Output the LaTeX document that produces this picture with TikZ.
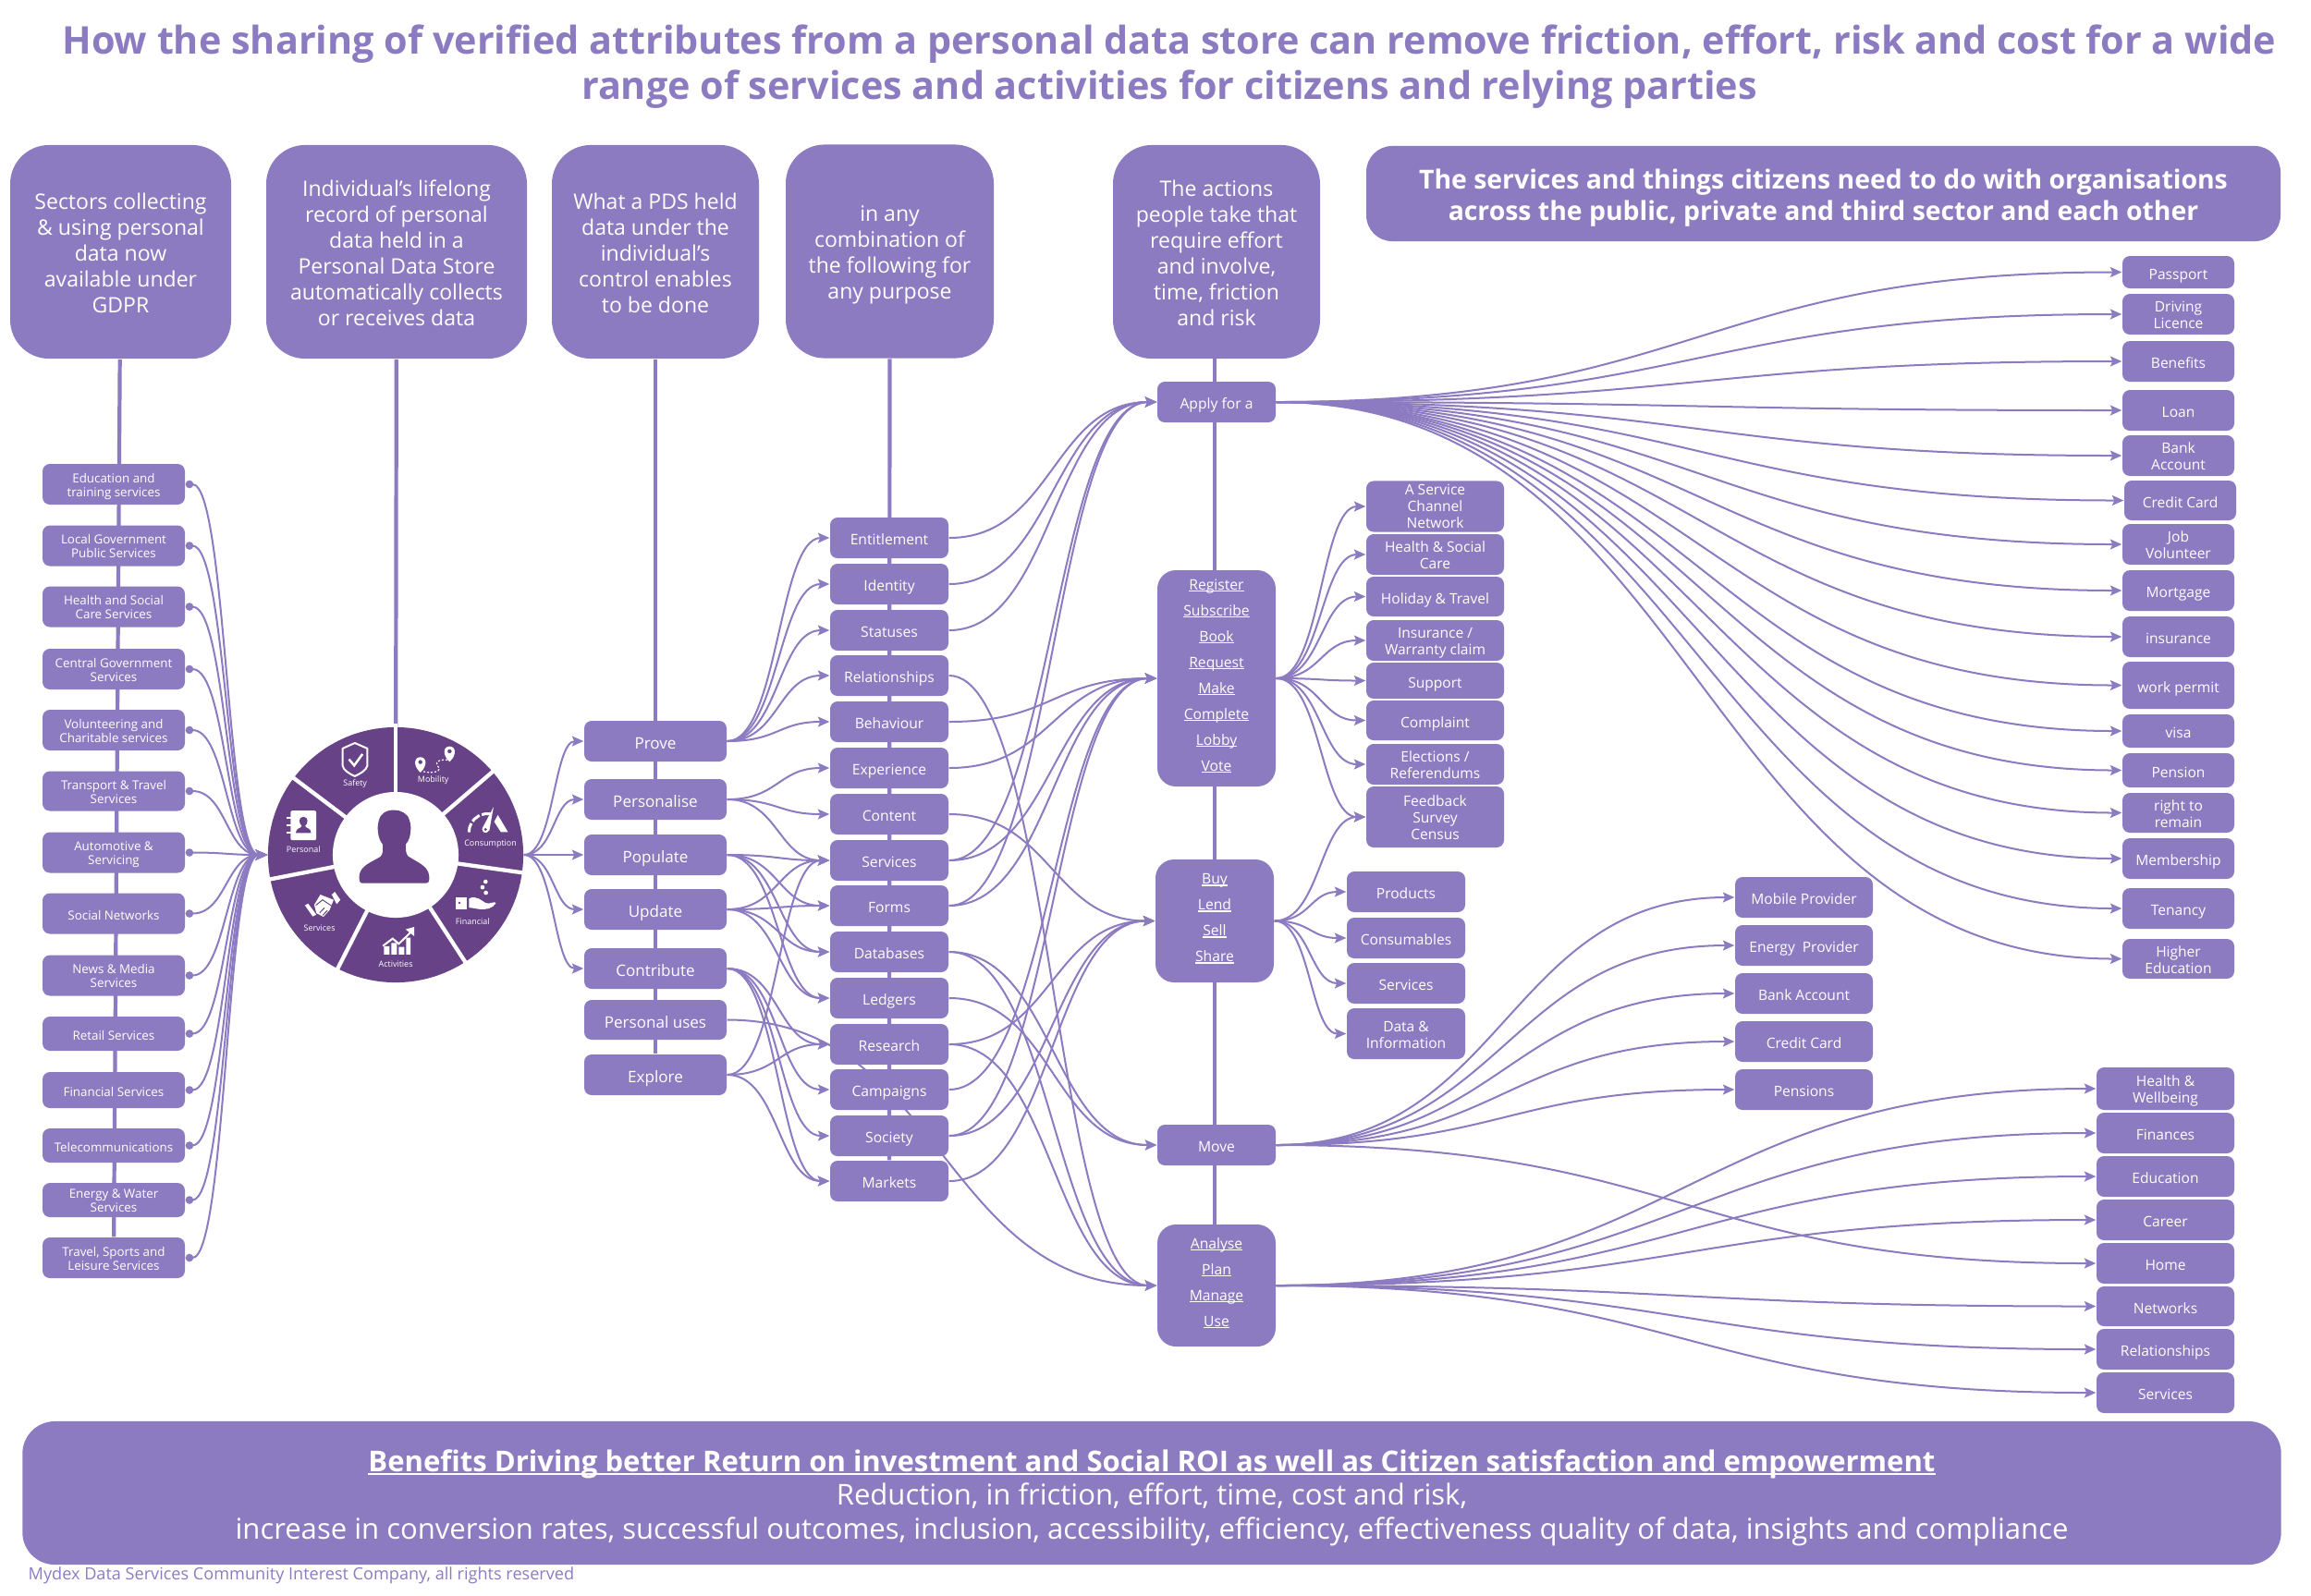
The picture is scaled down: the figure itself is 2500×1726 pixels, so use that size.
\documentclass[tikz,border=0pt]{standalone}
\usepackage{fontspec}
\setmainfont{Open Sans}
\usetikzlibrary{arrows.meta,backgrounds,calc}
\definecolor{boxpurple}{HTML}{8C7BC0}
\definecolor{wheelpurple}{HTML}{674287}
\newcommand\ruled[1]{\setbox0\hbox{#1}\rlap{\rule[-0.13em]{\wd0}{0.07em}}\box0 }
\newcommand\lead{\rule{0pt}{1.1em}}
\tikzset{
  evenlines/.style={execute at begin node={\rule[-0.24em]{0pt}{1.49em}}},
  tile/.style={fill=boxpurple,text=white,rounded corners=0.08cm,inner sep=0pt,align=center,evenlines,minimum width=#1*0.01cm},
  boxh/.style={minimum height=#1*0.01cm},
  sector/.style={tile=154,font=\fontsize{3.8}{4.38}\selectfont},
  usebox/.style={tile=154,font=\fontsize{4.85}{5.5}\selectfont},
  attr/.style={tile=128,boxh=44,font=\fontsize{4.45}{5.2}\selectfont},
  action/.style={tile=128,font=\fontsize{4.45}{7.97}\selectfont},
  menu/.style={action,rounded corners=0.2cm,execute at begin node={\rule[-0.46em]{0pt}{1em}}},
  thing/.style={font=\fontsize{4.42}{5.2}\selectfont},
  head/.style={fill=boxpurple,text=white,rounded corners=0.42cm,inner sep=0pt,align=center,evenlines,minimum height=2.31cm,minimum width=#1*0.01cm,font=\fontsize{6.55}{7.97}\selectfont},
  spine/.style={draw=boxpurple,line width=0.042cm},
  flow/.style={draw=boxpurple,line width=0.02cm,-{Stealth[length=0.125cm,width=0.11cm,inset=0.025cm]},
    to path={let \p1=(\tikztostart),\p2=(\tikztotarget),\n1={(\x2-\x1)/2} in
      .. controls ({\x1+\n1},\y1) and ({\x2-\n1},\y2) .. (\p2) \tikztonodes}},
  dotflow/.style={flow,{Circle[length=0.085cm]}-{Stealth[length=0.125cm,width=0.11cm,inset=0.025cm]}},
  wheeltext/.style={text=white,inner sep=0pt,font=\fontsize{2.55}{3}\selectfont},
}
\begin{document}
\begin{tikzpicture}[x=0.01cm,y=-0.01cm]
  \useasboundingbox (0,0) rectangle (2500,1726);
  % title and headers
  \draw
    (1265,72.5) node[text=boxpurple,align=center,font=\fontsize{11.76}{13.94}\selectfont\bfseries] (title){How the sharing of verified attributes from a personal data store can remove friction, effort, risk and cost for a wide\\range of services and activities for citizens and relying parties}
    (130.5,272.5) node[head=239] (sectorhead){\lead Sectors collecting\\\& using personal\\data now\\available under\\GDPR}
    (429,272.5) node[head=282] (recordhead){\lead Individual's lifelong\\record of personal\\data held in a\\Personal Data Store\\automatically collects\\or receives data}
    (709,272.5) node[head=224] (pdshead){\lead What a PDS held\\data under the\\individual's\\control enables\\to be done}
    (962.5,272) node[head=225] (anyhead){\lead in any\\combination of\\the following for\\any purpose}
    (1316,272.5) node[head=224] (actionhead){\lead The actions\\people take that\\require effort\\and involve,\\time, friction\\and risk}
    (1972.5,209.5) node[head=989,minimum height=1.03cm,rounded corners=0.28cm,font=\fontsize{8.07}{9.53}\selectfont\bfseries] (serviceshead){\lead The services and things citizens need to do with organisations\\across the public, private and third sector and each other};
  % wheel
  \draw
    (428,925) node[circle,fill=wheelpurple,minimum size=2.76cm,inner sep=0pt] (wheel){};
  \foreach \a in {90,40.6,-8,-57,-117,191,143}
    \draw[white,line width=0.043cm] (wheel.center) -- ++(\a:1.42cm);
  \draw
    (428,925) node[circle,fill=white,minimum size=1.36cm,inner sep=0pt] (hub){};
  \begin{scope}[shift={(285,780)},x=0.003333cm,y=-0.003333cm]
    % person
    \fill[wheelpurple] (322,528) -- (528,528) .. controls (540,528) and (540,515) .. (538,500) .. controls (532,470) and (500,460) .. (470,440) .. controls (462,432) and (462,415) .. (463,400) .. controls (480,385) and (482,340) .. (475,325) .. controls (470,300) and (445,290) .. (425,290) .. controls (400,290) and (380,300) .. (375,325) .. controls (368,345) and (372,385) .. (387,400) .. controls (390,420) and (388,435) .. (380,442) .. controls (350,460) and (318,470) .. (312,500) .. controls (310,518) and (312,528) .. (322,528) -- cycle;
    % safety
    \draw[white,line width=0.02cm,line join=round] (297,72) -- (338,90) -- (338,145) .. controls (335,160) and (315,172) .. (297,180) .. controls (279,172) and (259,160) .. (257,145) -- (257,90) -- cycle;
    \draw[white,line width=0.025cm] (278,125) -- (295,145) -- (322,108);
    % mobility
    \fill[white,even odd rule] (510,118) .. controls (490,118) and (485,145) .. (510,168) .. controls (535,145) and (530,118) .. (510,118) -- cycle (510,134) circle (7);
    \fill[white,even odd rule] (605,83) .. controls (585,83) and (580,110) .. (605,133) .. controls (630,110) and (625,83) .. (605,83) -- cycle (605,99) circle (7);
    \draw[white,line width=0.012cm,dash pattern=on 0.02cm off 0.02cm] (520,165) .. controls (550,172) and (585,165) .. (565,145) .. controls (555,130) and (580,125) .. (598,127);
    % consumption
    \draw[white,line width=0.03cm,dash pattern=on 0.1cm off 0.025cm] (668,362) arc (180:285:60);
    \fill[white] (762,306) -- (795,362) -- (772,362) -- (750,328) -- cycle;
    \fill[white] (748,280) -- (711,350) -- (734,358) -- cycle;
    \fill[white] (722,353) circle (11);
    \fill[wheelpurple] (722,353) circle (5);
    % financial
    \fill[white] (625,575) rectangle (660,612);
    \fill[wheelpurple] (637,592) circle (4);
    \fill[white] (668,578) .. controls (690,565) and (710,585) .. (722,592) .. controls (735,598) and (750,585) .. (756,592) .. controls (745,610) and (725,615) .. (700,612) -- (668,607) -- cycle;
    \fill[white] (722,523) circle (7) (712,541) circle (7) (723,559) circle (7);
    % activities
    \fill[white] (392,733) rectangle (410,760) (416,722) rectangle (434,760) (440,735) rectangle (458,760) (464,705) rectangle (478,760);
    \draw[wheelpurple,line width=0.02cm] (385,725) -- (420,702) -- (440,720) -- (482,682);
    \draw[white,line width=0.02cm] (388,732) -- (420,708) -- (440,725) -- (478,688);
    \fill[white] (490,670) -- (490,700) -- (462,678) -- cycle;
    % services
    \fill[white] (165,598) -- (185,565) -- (228,582) -- (215,615) -- (195,637) -- (172,625) -- cycle;
    \fill[white] (135,600) -- (145,594) -- (172,630) -- (160,636) -- cycle;
    \fill[white] (222,565) -- (232,556) -- (250,582) -- (238,596) -- cycle;
    \draw[wheelpurple,line width=0.01cm] (183,624) -- (198,608) (193,632) -- (208,616) (170,600) -- (192,582) -- (222,602);
    % personal
    \fill[white,rounded corners=0.02cm] (88,292) rectangle (172,388);
    \draw[white,line width=0.02cm] (76,315) -- (95,315) (76,340) -- (95,340) (76,365) -- (95,365);
    \fill[wheelpurple] (105,365) .. controls (105,348) and (122,350) .. (125,342) .. controls (115,335) and (112,312) .. (130,312) .. controls (148,312) and (145,335) .. (135,342) .. controls (138,350) and (155,348) .. (155,365) -- cycle;
    % labels
    \draw
      (298,205) node[wheeltext] (safety){Safety}
      (552,193) node[wheeltext] (mobility){Mobility}
      (738,400) node[wheeltext] (consumption){Consumption}
      (680,652) node[wheeltext] (financial){Financial}
      (430,792) node[wheeltext] (activities){Activities}
      (182,675) node[wheeltext] (wheelservices){Services}
      (130,417) node[wheeltext] (personal){Personal};
  \end{scope}
  % sectors
  \draw
    (123,524) node[sector,boxh=44] (education){\lead Education and\\training services}
    (123,590.5) node[sector,boxh=44] (localgov){\lead Local Government\\Public Services}
    (123,656.5) node[sector,boxh=44] (healthcare){\lead Health and Social\\Care Services}
    (123,724) node[sector,boxh=44] (centralgov){\lead Central Government\\Services}
    (123,790) node[sector,boxh=44] (volunteering){\lead Volunteering and\\Charitable services}
    (123,856) node[sector,boxh=43] (transport){\lead Transport \& Travel\\Services}
    (123,922.5) node[sector,boxh=44] (automotive){\lead Automotive \&\\Servicing}
    (123,988.5) node[sector,boxh=44] (social){Social Networks}
    (123,1055.5) node[sector,boxh=44] (news){\lead News \& Media\\Services}
    (123,1118.5) node[sector,boxh=37] (retail){Retail Services}
    (123,1179.5) node[sector,boxh=39] (finance){Financial Services}
    (123,1239.5) node[sector,boxh=37] (telecoms){Telecommunications}
    (123,1298.5) node[sector,boxh=37] (energy){\lead Energy \& Water\\Services}
    (123,1361) node[sector,boxh=44] (travel){\lead Travel, Sports and\\Leisure Services};
  % uses
  \draw
    (709,802) node[usebox,boxh=44] (prove){Prove}
    (709,865) node[usebox,boxh=44] (personalise){Personalise}
    (709,925) node[usebox,boxh=44] (populate){Populate}
    (709,984) node[usebox,boxh=44] (update){Update}
    (709,1048) node[usebox,boxh=44] (contribute){Contribute}
    (709,1103.5) node[usebox,boxh=43] (personaluses){Personal uses}
    (709,1163) node[usebox,boxh=44] (explore){Explore};
  % attributes
  \draw
    (962,582) node[attr] (entitlement){Entitlement}
    (962,632) node[attr] (identity){Identity}
    (962,682) node[attr] (statuses){Statuses}
    (962,731) node[attr] (relationships){Relationships}
    (962,781) node[attr] (behaviour){Behaviour}
    (962,831) node[attr] (experience){Experience}
    (962,881) node[attr] (content){Content}
    (962,931) node[attr] (services){Services}
    (962,980) node[attr] (forms){Forms}
    (962,1030) node[attr] (databases){Databases}
    (962,1080) node[attr] (ledgers){Ledgers}
    (962,1130) node[attr] (research){Research}
    (962,1179) node[attr] (campaigns){Campaigns}
    (962,1229) node[attr] (society){Society}
    (962,1278) node[attr] (markets){Markets};
  % actions
  \draw
    (1316,435) node[action,boxh=44] (apply){Apply for a}
    (1316,734) node[menu,boxh=234] (register){\ruled{Register}\\\ruled{Subscribe}\\\ruled{Book}\\\ruled{Request}\\\ruled{Make}\\\ruled{Complete}\\\ruled{Lobby}\\\ruled{Vote}}
    (1314,996.5) node[menu,boxh=133] (buy){\ruled{Buy}\\\ruled{Lend}\\\ruled{Sell}\\\ruled{Share}}
    (1316,1239) node[action,boxh=44] (move){Move}
    (1316,1391) node[menu,boxh=132] (analyse){\ruled{Analyse}\\\ruled{Plan}\\\ruled{Manage}\\\ruled{Use}};
  % register and buy outcomes
  \draw
    (1552.5,548) node[tile=149,thing,boxh=54,execute at begin node={}] (channel){\rule{0pt}{0.95em}A Service\\Channel\\Network}
    (1552.5,600) node[tile=149,thing,boxh=44] (healthsocial){\lead Health \& Social\\Care}
    (1552.5,645.5) node[tile=149,thing,boxh=43] (holiday){Holiday \& Travel}
    (1552.5,693) node[tile=149,thing,boxh=44] (warranty){\lead Insurance /\\Warranty claim}
    (1552.5,736.5) node[tile=149,thing,boxh=39] (support){Support}
    (1552.5,779.5) node[tile=149,thing,boxh=43] (complaint){Complaint}
    (1552.5,827) node[tile=149,thing,boxh=44] (elections){\lead Elections /\\Referendums}
    (1552.5,884) node[tile=149,thing,boxh=66] (feedback){\lead Feedback\\Survey\\Census}
    (1521,965) node[tile=128,thing,boxh=44] (products){Products}
    (1521,1015) node[tile=128,thing,boxh=44] (consumables){Consumables}
    (1521,1064) node[tile=128,thing,boxh=44] (buyservices){Services}
    (1521,1118.5) node[tile=128,thing,boxh=55] (datainfo){\lead Data \&\\Information};
  % move outcomes
  \draw
    (1951.5,971) node[tile=149,thing,boxh=44] (mobile){Mobile Provider}
    (1951.5,1023) node[tile=149,thing,boxh=44] (energyprov){Energy\ \ Provider}
    (1951.5,1075) node[tile=149,thing,boxh=44] (bankmove){Bank Account}
    (1951.5,1127) node[tile=149,thing,boxh=44] (creditmove){Credit Card}
    (1951.5,1179) node[tile=149,thing,boxh=44] (pensions){Pensions};
  % apply outcomes
  \draw
    (2356.5,294.5) node[tile=121,thing,boxh=35] (passport){Passport}
    (2356.5,340) node[tile=121,thing,boxh=44] (driving){\lead Driving\\Licence}
    (2356.5,391) node[tile=121,thing,boxh=44] (benefits){Benefits}
    (2356.5,444) node[tile=121,thing,boxh=44] (loan){Loan}
    (2356.5,493) node[tile=121,thing,boxh=44] (bank){\lead Bank\\Account}
    (2358.5,541.5) node[tile=121,thing,boxh=43] (credit){Credit Card}
    (2356.5,589) node[tile=121,thing,boxh=44] (job){\lead Job\\Volunteer}
    (2356.5,639) node[tile=121,thing,boxh=44] (mortgage){Mortgage}
    (2356.5,689) node[tile=121,thing,boxh=44] (insurance){insurance}
    (2356.5,741.5) node[tile=121,thing,boxh=51] (workpermit){work permit}
    (2356.5,791) node[tile=121,thing,boxh=36] (visa){visa}
    (2356.5,833.5) node[tile=121,thing,boxh=37] (pension){Pension}
    (2356.5,879.5) node[tile=121,thing,boxh=43] (remain){\lead right to\\remain}
    (2356.5,929) node[tile=121,thing,boxh=44] (membership){Membership}
    (2356.5,983) node[tile=121,thing,boxh=44] (tenancy){Tenancy}
    (2356.5,1037.5) node[tile=121,thing,boxh=43] (higher){\lead Higher\\Education};
  % analyse outcomes
  \draw
    (2342.5,1178) node[tile=149,thing,boxh=46] (wellbeing){\lead Health \&\\Wellbeing}
    (2342.5,1226) node[tile=149,thing,boxh=44] (finances){Finances}
    (2342.5,1273) node[tile=149,thing,boxh=44] (educationout){Education}
    (2342.5,1320) node[tile=149,thing,boxh=44] (career){Career}
    (2342.5,1367) node[tile=149,thing,boxh=44] (home){Home}
    (2342.5,1413.5) node[tile=149,thing,boxh=43] (networks){Networks}
    (2342.5,1460) node[tile=149,thing,boxh=44] (relations){Relationships}
    (2342.5,1507) node[tile=149,thing,boxh=44] (servicesout){Services};
  % benefits
  \draw
    (1246,1615.5) node[fill=boxpurple,text=white,rounded corners=0.35cm,inner sep=0pt,align=center,minimum width=24.42cm,minimum height=1.55cm,font=\fontsize{8.83}{10.4}\selectfont] (benefitsband){\lead{\bfseries\ruled{Benefits Driving better Return on investment and Social ROI as well as Citizen satisfaction and empowerment}}\\Reduction, in friction, effort, time, cost and risk,\\increase in conversion rates, successful outcomes, inclusion, accessibility, efficiency, effectiveness quality of data, insights and compliance}
    (30,1705) node[anchor=west,text=boxpurple,inner sep=0pt,font=\fontsize{5.15}{6.5}\selectfont] (mydex){Mydex Data Services Community Interest Company, all rights reserved};
  \coordinate (railtop) at (1314,388);
  \coordinate (railend) at (1314,1325);
  \begin{scope}[on background layer]
    \draw[spine] (sectorhead) -- (travel);
    \draw[spine] (recordhead) -- (wheel);
    \draw[spine] (pdshead) -- (explore);
    \draw[spine] (anyhead) -- (markets);
    \draw[spine] (railtop) -- (railend);
  \end{scope}
  \begin{scope}[on background layer]
    \draw[dotflow] (education.east) to (wheel.west);
    \draw[dotflow] (localgov.east) to (wheel.west);
    \draw[dotflow] (healthcare.east) to (wheel.west);
    \draw[dotflow] (centralgov.east) to (wheel.west);
    \draw[dotflow] (volunteering.east) to (wheel.west);
    \draw[dotflow] (transport.east) to (wheel.west);
    \draw[dotflow] (automotive.east) to (wheel.west);
    \draw[dotflow] (social.east) to (wheel.west);
    \draw[dotflow] (news.east) to (wheel.west);
    \draw[dotflow] (retail.east) to (wheel.west);
    \draw[dotflow] (finance.east) to (wheel.west);
    \draw[dotflow] (telecoms.east) to (wheel.west);
    \draw[dotflow] (energy.east) to (wheel.west);
    \draw[dotflow] (travel.east) to (wheel.west);
    \draw[flow] (wheel.east) to (prove.west);
    \draw[flow] (wheel.east) to (personalise.west);
    \draw[flow] (wheel.east) to (populate.west);
    \draw[flow] (wheel.east) to (update.west);
    \draw[flow] (wheel.east) to (contribute.west);
    \draw[flow] (prove.east) to (entitlement.west);
    \draw[flow] (prove.east) to (identity.west);
    \draw[flow] (prove.east) to (statuses.west);
    \draw[flow] (prove.east) to (relationships.west);
    \draw[flow] (prove.east) to (behaviour.west);
    \draw[flow] (personalise.east) to (experience.west);
    \draw[flow] (personalise.east) to (content.west);
    \draw[flow] (personalise.east) to (services.west);
    \draw[flow] (populate.east) to (services.west);
    \draw[flow] (populate.east) to (forms.west);
    \draw[flow] (populate.east) to (databases.west);
    \draw[flow] (populate.east) to (ledgers.west);
    \draw[flow] (update.east) to (services.west);
    \draw[flow] (update.east) to (forms.west);
    \draw[flow] (update.east) to (databases.west);
    \draw[flow] (update.east) to (ledgers.west);
    \draw[flow] (contribute.east) to (research.west);
    \draw[flow] (contribute.east) to (campaigns.west);
    \draw[flow] (contribute.east) to (society.west);
    \draw[flow] (contribute.east) to (markets.west);
    \draw[flow] (personaluses.east) to (analyse.west);
    \draw[flow] (explore.east) to (services.west);
    \draw[flow] (explore.east) to (research.west);
    \draw[flow] (explore.east) to (markets.west);
    \draw[flow] (entitlement.east) to (apply.west);
    \draw[flow] (identity.east) to (apply.west);
    \draw[flow] (statuses.east) to (apply.west);
    \draw[flow] (services.east) to (apply.west);
    \draw[flow] (forms.east) to (apply.west);
    \draw[flow] (behaviour.east) to (register.west);
    \draw[flow] (experience.east) to (register.west);
    \draw[flow] (services.east) to (register.west);
    \draw[flow] (forms.east) to (register.west);
    \draw[flow] (campaigns.east) to (register.west);
    \draw[flow] (society.east) to (register.west);
    \draw[flow] (content.east) to (buy.west);
    \draw[flow] (research.east) to (buy.west);
    \draw[flow] (society.east) to (buy.west);
    \draw[flow] (markets.east) to (buy.west);
    \draw[flow] (databases.east) to (move.west);
    \draw[flow] (ledgers.east) to (move.west);
    \draw[flow] (relationships.east) to (analyse.west);
    \draw[flow] (databases.east) to (analyse.west);
    \draw[flow] (research.east) to (analyse.west);
    \draw[flow] (apply.east) to (passport.west);
    \draw[flow] (apply.east) to (driving.west);
    \draw[flow] (apply.east) to (benefits.west);
    \draw[flow] (apply.east) to (loan.west);
    \draw[flow] (apply.east) to (bank.west);
    \draw[flow] (apply.east) to (credit.west);
    \draw[flow] (apply.east) to (job.west);
    \draw[flow] (apply.east) to (mortgage.west);
    \draw[flow] (apply.east) to (insurance.west);
    \draw[flow] (apply.east) to (workpermit.west);
    \draw[flow] (apply.east) to (visa.west);
    \draw[flow] (apply.east) to (pension.west);
    \draw[flow] (apply.east) to (remain.west);
    \draw[flow] (apply.east) to (membership.west);
    \draw[flow] (apply.east) to (tenancy.west);
    \draw[flow] (apply.east) to (higher.west);
    \draw[flow] (register.east) to (channel.west);
    \draw[flow] (register.east) to (healthsocial.west);
    \draw[flow] (register.east) to (holiday.west);
    \draw[flow] (register.east) to (warranty.west);
    \draw[flow] (register.east) to (support.west);
    \draw[flow] (register.east) to (complaint.west);
    \draw[flow] (register.east) to (elections.west);
    \draw[flow] (register.east) to (feedback.west);
    \draw[flow] (buy.east) to (feedback.west);
    \draw[flow] (buy.east) to (products.west);
    \draw[flow] (buy.east) to (consumables.west);
    \draw[flow] (buy.east) to (buyservices.west);
    \draw[flow] (buy.east) to (datainfo.west);
    \draw[flow] (move.east) to (mobile.west);
    \draw[flow] (move.east) to (energyprov.west);
    \draw[flow] (move.east) to (bankmove.west);
    \draw[flow] (move.east) to (creditmove.west);
    \draw[flow] (move.east) to (pensions.west);
    \draw[flow] (move.east) to (home.west);
    \draw[flow] (analyse.east) to (wellbeing.west);
    \draw[flow] (analyse.east) to (finances.west);
    \draw[flow] (analyse.east) to (educationout.west);
    \draw[flow] (analyse.east) to (career.west);
    \draw[flow] (analyse.east) to (networks.west);
    \draw[flow] (analyse.east) to (relations.west);
    \draw[flow] (analyse.east) to (servicesout.west);
  \end{scope}
\end{tikzpicture}
\end{document}
